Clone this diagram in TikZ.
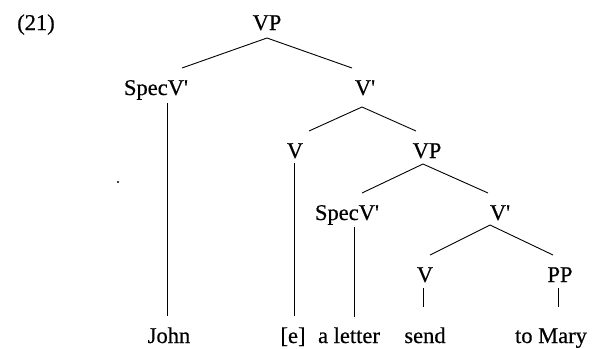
\documentclass[tikz,border=0pt]{standalone}
\usepackage{fontspec}
\setmainfont{Liberation Serif}
\newfontfamily\lblfont{Liberation Serif}[FakeBold=0.5]
\usetikzlibrary{calc}
\newcommand{\pr}{\textquotesingle}
\tikzset{
  lbl/.style={anchor=base, inner sep=0pt, font=\lblfont\fontsize{22.5}{26}\selectfont},
  br/.style={line width=0.9pt, black}
}
\begin{document}
\begin{tikzpicture}[x=1pt,y=-1pt]
\useasboundingbox (0,0) rectangle (594,348);
\node[lbl] (ex) at (36,30) {(21)};
\node[lbl] (vp1) at (267,30) {VP};
\node[lbl] (spec1) at (156,95) {SpecV\pr};
\node[lbl] (vbar1) at (365,95) {V\pr};
\node[lbl] (v1) at (295,158) {V};
\node[lbl] (vp2) at (427,158) {VP};
\node[lbl] (spec2) at (347,220) {SpecV\pr};
\node[lbl] (vbar2) at (500,220) {V\pr};
\node[lbl] (v2) at (425,282) {V};
\node[lbl] (pp) at (560,282) {PP};
\node[lbl] (john) at (169,343) {John};
\node[lbl] (e) at (293,343) {[e]};
\node[lbl] (letter) at (349,343) {a letter};
\node[lbl] (send) at (425,343) {send};
\node[lbl] (mary) at (551,343) {to Mary};
\fill (118,182) circle (1.2);
\draw[br] ($(spec1.base)+(26,-27)$) -- ($(vp1.base)+(0,8)$) -- ($(vbar1.base)+(-13,-27)$);
\draw[br] ($(spec1.base)+(11,8)$) -- ($(john.base)+(-2,-27)$);
\draw[br] ($(v1.base)+(14,-27)$) -- ($(vbar1.base)+(-3,12)$) -- ($(vp2.base)+(-11,-27)$);
\draw[br] ($(v1.base)+(-1,5)$) -- ($(e.base)+(1,-27)$);
\draw[br] ($(spec2.base)+(15,-27)$) -- ($(vp2.base)+(-4,6)$) -- ($(vbar2.base)+(-12,-27)$);
\draw[br] ($(spec2.base)+(7,7)$) -- ($(letter.base)+(5,-26)$);
\draw[br] ($(v2.base)+(5,-27)$) -- ($(vbar2.base)+(-10,5)$) -- ($(pp.base)+(-7,-27)$);
\draw[br] ($(v2.base)+(-2,6)$) -- ($(send.base)+(-2,-36)$);
\draw[br] ($(pp.base)+(-2,6)$) -- ($(mary.base)+(7,-36)$);
\end{tikzpicture}
\end{document}
